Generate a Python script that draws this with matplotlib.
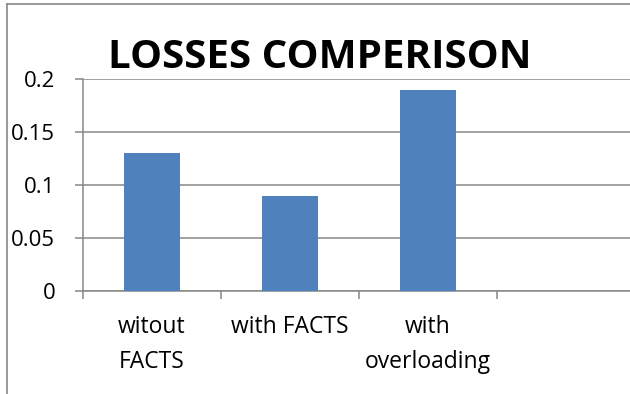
import matplotlib.pyplot as plt
from matplotlib.lines import Line2D

plt.rcParams['font.family'] = ['Open Sans', 'DejaVu Sans']

# Loss values per case
categories = ['witout\nFACTS', 'with FACTS', 'with\noverloading', '']
losses = [0.13, 0.09, 0.19, None]
yticks = [0, 0.05, 0.1, 0.15, 0.2]
ytick_labels = ['0', '0.05', '0.1', '0.15', '0.2']

grey = '#878787'
blue = '#4F81BD'

fig = plt.figure(figsize=(6.3, 3.94), dpi=100)
ax = fig.add_axes([0.1317, 0.2614, 0.8763, 0.538])

pos = [i + 1 for i, v in enumerate(losses) if v is not None]
vals = [v for v in losses if v is not None]
ax.bar(pos, vals, width=0.4, color=blue, zorder=3)

ax.set_xlim(0.5, len(categories) + 0.5)
ax.set_ylim(0, 0.2)
ax.set_yticks(yticks)
ax.set_yticklabels(ytick_labels, fontsize=16)
ax.yaxis.grid(True, color=grey, linewidth=1.1, zorder=0)

# ticks at category boundaries, labels centred on the categories
ax.set_xticks([i + 0.5 for i in range(len(categories) + 1)])
ax.set_xticklabels([])
ax.set_xticks(range(1, len(categories) + 1), minor=True)
ax.set_xticklabels(categories, minor=True, fontsize=16.5, linespacing=1.62)
ax.tick_params(axis='x', which='major', length=6, width=1.1, color=grey, direction='out')
ax.tick_params(axis='x', which='minor', length=0, pad=17)
ax.tick_params(axis='y', length=6, width=1.1, color=grey, pad=14)

for side in ['top', 'right']:
    ax.spines[side].set_visible(False)
for side in ['left', 'bottom']:
    ax.spines[side].set_color(grey)
    ax.spines[side].set_linewidth(1.1)

fig.text(0.507, 0.828, 'LOSSES COMPERISON', ha='center', va='baseline',
         fontsize=29, fontweight='bold')

# outer chart frame
fig.add_artist(Line2D([7 / 630, 7 / 630], [0, 1 - 4 / 394], transform=fig.transFigure,
                      color=grey, linewidth=1.2))
fig.add_artist(Line2D([7 / 630, 1], [1 - 4 / 394, 1 - 4 / 394], transform=fig.transFigure,
                      color=grey, linewidth=1.2))

fig.savefig('out.png', dpi=100)
